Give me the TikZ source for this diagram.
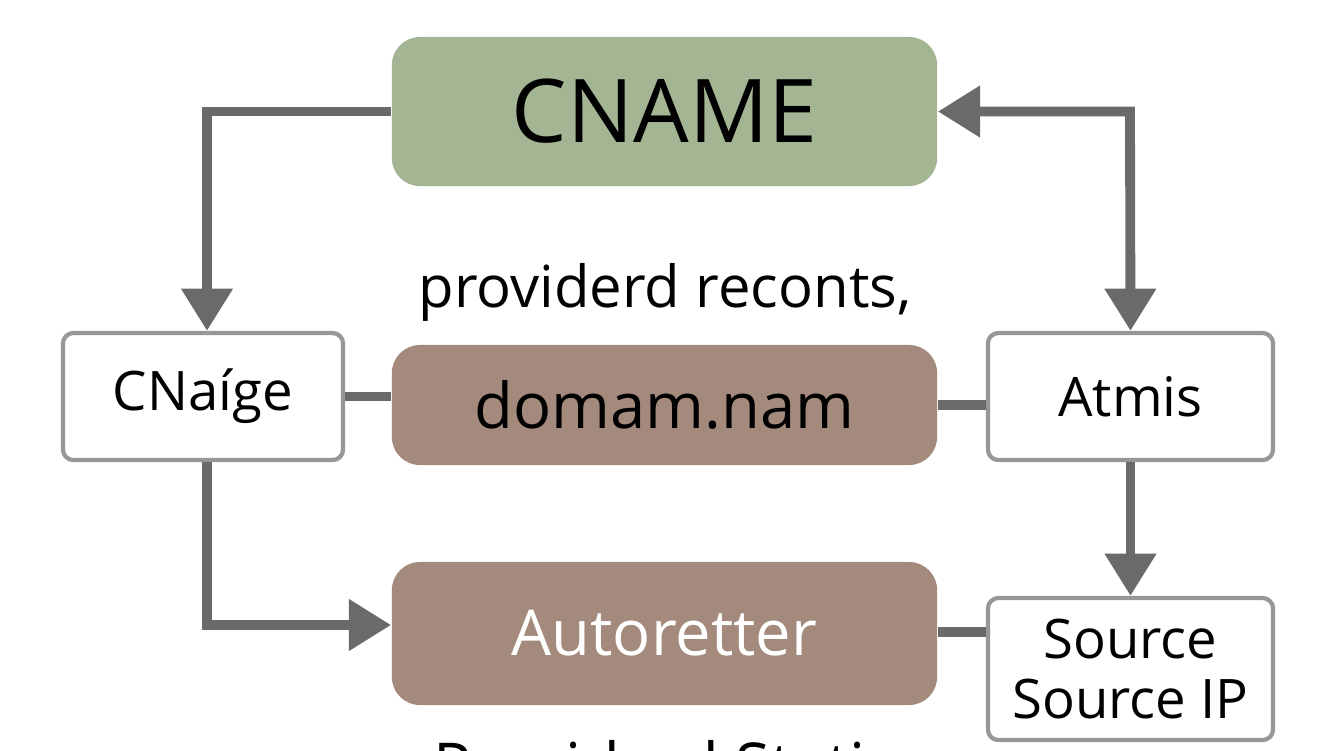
\documentclass[tikz,border=0pt]{standalone}
\usepackage{fontspec}
\setmainfont{Open Sans}
\usetikzlibrary{arrows.meta}
\definecolor{gr}{HTML}{A4B594}
\definecolor{br}{HTML}{A38A7C}
\definecolor{ln}{HTML}{6A6A6A}
\begin{document}
\begin{tikzpicture}[x=0.01cm,y=-0.01cm,
 box/.style={draw=ln!70,line width=1.2pt,fill=white,rounded corners=3pt,inner sep=0pt},
 big/.style={rounded corners=8pt,inner sep=0pt},
 con/.style={draw=ln,line width=2.8pt},
 arr/.style={con,-{Triangle[length=12pt,width=14pt]}}]
\useasboundingbox[fill=white] (0,0) rectangle (1344,750);
\node[big,fill=gr,minimum width=5.45cm,minimum height=1.49cm,font=\fontsize{25}{28}\selectfont] (cname) at (664.5,111.5) {CNAME};
\node[box,minimum width=2.8cm,minimum height=1.27cm,font=\fontsize{15.5}{17}\selectfont] (cn) at (203,396.5) {CNaíge};
\node[big,fill=br,minimum width=5.45cm,minimum height=1.2cm,font=\fontsize{18}{20}\selectfont] (dom) at (664.5,405) {domam.nam};
\node[box,minimum width=2.85cm,minimum height=1.27cm,font=\fontsize{15.5}{17}\selectfont] (at) at (1130.5,396.5) {Atmis};
\node[big,fill=br,minimum width=5.45cm,minimum height=1.43cm,text=white,font=\fontsize{18}{20}\selectfont] (au) at (664.5,633.5) {Autoretter};
\node[box,minimum width=2.85cm,minimum height=1.42cm,align=center,font=\fontsize{15.5}{17}\selectfont] (src) at (1130.5,669) {Source\\Source IP};
\node[font=\fontsize{16.5}{18}\selectfont] (lab) at (665,292) {providerd reconts,};
\node[font=\fontsize{18}{20}\selectfont,anchor=north] (bot) at (665,728) {Providerd Static};
\draw[arr] (cname.west) -- (207,111.5) -- (cn.north-|207,0);
\draw[arr,{Triangle[length=12pt,width=14pt]}-{Triangle[length=12pt,width=14pt]}] (cname.east) -- (1130,111.5) -- (at.north);
\draw[con] (cn.east) -- (cn.east-|dom.west);
\draw[con] (dom.east) -- (dom.east-|at.west);
\draw[arr] (cn.south-|207,0) -- (207,625) -- (au.west|-0,625);
\draw[arr] (at.south) -- (src.north);
\draw[con] (au.east|-0,632) -- (src.west|-0,632);
\end{tikzpicture}
\end{document}
